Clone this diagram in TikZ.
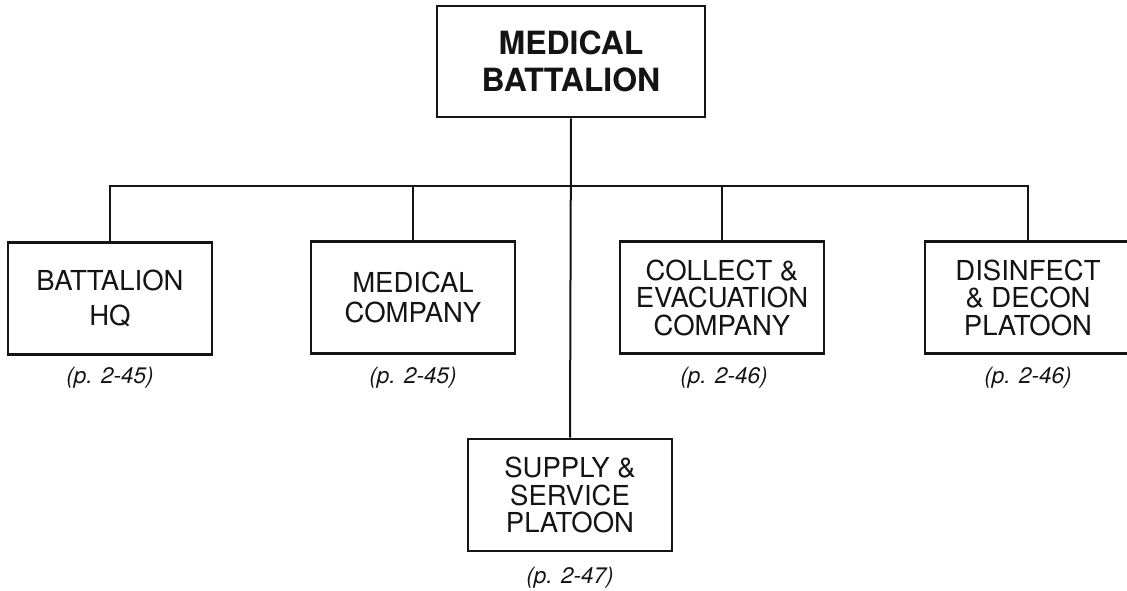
\documentclass[tikz,border=0pt]{standalone}
\usepackage{fontspec}
\setmainfont{TeX Gyre Heros}
\usepackage{tikz}
\usetikzlibrary{positioning,calc}
\definecolor{ink}{RGB}{20,20,20}
\tikzset{box/.style={draw=ink,line width=2.6pt,inner sep=4pt,align=center,
    minimum width=204pt,minimum height=112pt,text=ink,
    font=\fontsize{27.5}{27.5}\selectfont},
  topbox/.style={box,minimum width=268pt,minimum height=111pt,
    font=\fontsize{32}{37}\selectfont\bfseries},
  link/.style={draw=ink,line width=2pt},
  pageref/.style={anchor=base,text=ink,font=\fontsize{22.5}{24}\selectfont\itshape}}

\begin{document}
\begin{tikzpicture}[x=1pt, y=-1pt]
\useasboundingbox (0,0) rectangle (1127,590);
\node[topbox] (bn) at (571,61.5) {MEDICAL\\BATTALION};
\node[box] (hq) at (110,298.5) {BATTALION\\[7pt]HQ};
\node[box] (medco) at (413,297.5) {MEDICAL\\[2pt]COMPANY};
\node[box] (cecoy) at (722,297.5) {COLLECT \&\\EVACUATION\\COMPANY};
\node[box, minimum width=206pt] (ddplt) at (1028,297.5) {DISINFECT\\\& DECON\\PLATOON};
\node[box] (sspl) at (570,495) {SUPPLY \&\\SERVICE\\PLATOON};
\coordinate (bus) at (570,186);
\draw[link] (bn.south) -- (sspl.north);
\draw[link] (hq.north) |- (bus) -| (ddplt.north);
\draw[link] (medco.north) |- (bus);
\draw[link] (cecoy.north) |- (bus);
\node[pageref] (hqref) at (110,383) {(p. 2-45)};
\node[pageref] (medcoref) at (413,383) {(p. 2-45)};
\node[pageref] (cecoyref) at (724,383) {(p. 2-46)};
\node[pageref] (ddpltref) at (1028,383) {(p. 2-46)};
\node[pageref] (ssplref) at (570,583) {(p. 2-47)};
\end{tikzpicture}
\end{document}
